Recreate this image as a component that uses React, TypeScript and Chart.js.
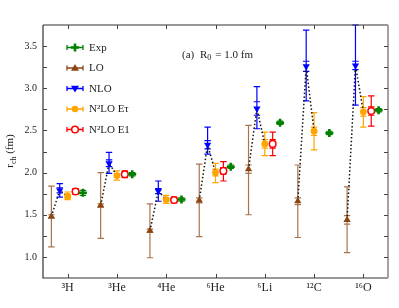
import React, { useEffect, useRef } from 'react';
import { Chart, registerables } from 'chart.js';

Chart.register(...registerables);

// ---------- data ----------
const nuclei = ['³H', '³He', '⁴He', '⁶He', '⁶Li', '¹²C', '¹⁶O'];
const yLabelValues = [1.0, 1.5, 2.0, 2.5, 3.0, 3.5];

const loVal = [1.48, 1.61, 1.31, 1.67, 2.04, 1.66, 1.44];
const loHi = [1.84, 2.0, 1.63, 2.1, 2.56, 2.09, 1.83];
const loLo = [1.12, 1.22, 0.99, 1.24, 1.5, 1.23, 1.05];
const loInner = [0.02, 0.02, 0.02, 0.03, 0.05, 0.04, 0.05];

const nloVal = [1.79, 2.11, 1.78, 2.33, 2.76, 3.26, 3.27];
const nloHi = [1.87, 2.24, 1.9, 2.54, 3.02, 3.69, 3.75];
const nloLo = [1.71, 1.99, 1.66, 2.22, 2.52, 2.85, 2.8];
const nloInner = [0.03, 0.04, 0.03, 0.05, 0.08, 0.06, 0.05];

const erVal = [1.72, 1.965, 1.68, 2.0, 2.34, 2.49, 2.72];
const erHi = [1.77, 2.02, 1.73, 2.11, 2.48, 2.71, 2.9];
const erLo = [1.68, 1.91, 1.635, 1.88, 2.2, 2.27, 2.54];
const erInner = [0.02, 0.02, 0.02, 0.04, 0.05, 0.05, 0.05];

const e1Val = [1.775, 1.98, 1.675, 2.02, 2.34, null, 2.73];
const e1Hi = [1.81, 2.02, 1.71, 2.13, 2.48, null, 2.91];
const e1Lo = [1.74, 1.94, 1.64, 1.9, 2.2, null, 2.55];
const e1Inner = [0.02, 0.02, 0.02, 0.04, 0.05, null, 0.05];

const expVal = [1.76, 1.98, 1.68, 2.07, 2.59, 2.47, 2.74];
const expErr = [0.03, 0.02, 0.02, 0.02, 0.02, 0.02, 0.02];

// ---------- styles ----------
const FONT = "'Liberation Serif', 'DejaVu Serif', serif";
const C_LO = '#8B4513';
const C_LO_BAR = 'rgba(139,69,19,0.75)';
const C_NLO = '#0000FF';
const C_ER = '#FFA500';
const C_E1 = '#FF0000';
const C_EXP = '#008000';

const OFF = { lo: -0.33, nlo: -0.16, er: 0, e1: 0.16, exp: 0.31 };

type Series = {
  vals: (number | null)[];
  hi: (number | null)[];
  lo: (number | null)[];
  inner?: (number | null)[];
  offset: number;
  color: string;
};

const errSeries: Series[] = [
  { vals: loVal, hi: loHi, lo: loLo, inner: loInner, offset: OFF.lo, color: C_LO_BAR },
  { vals: nloVal, hi: nloHi, lo: nloLo, inner: nloInner, offset: OFF.nlo, color: C_NLO },
  { vals: erVal, hi: erHi, lo: erLo, inner: erInner, offset: OFF.er, color: C_ER },
  { vals: e1Val, hi: e1Hi, lo: e1Lo, inner: e1Inner, offset: OFF.e1, color: C_E1 },
  {
    vals: expVal,
    hi: expVal.map((v, i) => v + expErr[i]),
    lo: expVal.map((v, i) => v - expErr[i]),
    offset: OFF.exp,
    color: C_EXP,
  },
];

const pts = (vals: (number | null)[], off: number) =>
  vals.map((v, i) => ({ x: i + 1 + off, y: v }));

const dottedData: { x: number; y: number | null }[] = [];
nuclei.forEach((_, i) => {
  dottedData.push({ x: i + 1 + OFF.lo, y: loVal[i] });
  dottedData.push({ x: i + 1 + OFF.nlo, y: nloVal[i] });
  dottedData.push({ x: i + 1 + OFF.er, y: erVal[i] });
  dottedData.push({ x: i + 1.5, y: null });
});

function drawMarker(ctx: CanvasRenderingContext2D, kind: string, x: number, y: number, color: string) {
  ctx.save();
  ctx.fillStyle = color;
  ctx.strokeStyle = color;
  if (kind === 'triUp' || kind === 'triDown') {
    const r = 4;
    const s = kind === 'triUp' ? 1 : -1;
    ctx.beginPath();
    ctx.moveTo(x, y - s * r);
    ctx.lineTo(x - r, y + s * r * 0.7);
    ctx.lineTo(x + r, y + s * r * 0.7);
    ctx.closePath();
    ctx.fill();
  } else if (kind === 'circle') {
    ctx.beginPath();
    ctx.arc(x, y, 3.3, 0, Math.PI * 2);
    ctx.fill();
  } else if (kind === 'ring') {
    ctx.fillStyle = '#fff';
    ctx.lineWidth = 1.5;
    ctx.beginPath();
    ctx.arc(x, y, 3.3, 0, Math.PI * 2);
    ctx.fill();
    ctx.stroke();
  } else if (kind === 'plus') {
    ctx.lineWidth = 2.6;
    ctx.beginPath();
    ctx.moveTo(x - 4, y);
    ctx.lineTo(x + 4, y);
    ctx.moveTo(x, y - 4);
    ctx.lineTo(x, y + 4);
    ctx.stroke();
  }
  ctx.restore();
}

const errPlugin = {
  id: 'errbars',
  beforeDatasetsDraw(chart: any) {
    const { ctx, chartArea, scales } = chart;
    const xs = scales.x;
    const ys = scales.y;
    ctx.save();
    ctx.beginPath();
    ctx.rect(chartArea.left, chartArea.top - 1, chartArea.right - chartArea.left, chartArea.bottom - chartArea.top + 2);
    ctx.clip();
    ctx.lineWidth = 1.2;
    const cap = 3.2;
    for (const s of errSeries) {
      ctx.strokeStyle = s.color;
      s.vals.forEach((v, i) => {
        if (v == null) return;
        const px = xs.getPixelForValue(i + 1 + s.offset);
        const pt = ys.getPixelForValue(s.hi[i] as number);
        const pb = ys.getPixelForValue(s.lo[i] as number);
        ctx.beginPath();
        ctx.moveTo(px, pt);
        ctx.lineTo(px, pb);
        ctx.moveTo(px - cap, pt);
        ctx.lineTo(px + cap, pt);
        ctx.moveTo(px - cap, pb);
        ctx.lineTo(px + cap, pb);
        if (s.inner && s.inner[i] != null) {
          const a = ys.getPixelForValue(v + (s.inner[i] as number));
          const b = ys.getPixelForValue(v - (s.inner[i] as number));
          ctx.moveTo(px - cap, a);
          ctx.lineTo(px + cap, a);
          ctx.moveTo(px - cap, b);
          ctx.lineTo(px + cap, b);
        }
        ctx.stroke();
      });
    }
    ctx.restore();
  },
};

const legendItems = [
  { label: 'Exp', kind: 'plus', color: C_EXP, sup: false },
  { label: 'LO', kind: 'triUp', color: C_LO, sup: false },
  { label: 'NLO', kind: 'triDown', color: C_NLO, sup: false },
  { label: 'N²LO Eτ', kind: 'circle', color: C_ER, sup: true },
  { label: 'N²LO E1', kind: 'ring', color: C_E1, sup: true },
];

const framePlugin = {
  id: 'frame',
  afterDraw(chart: any) {
    const { ctx, chartArea, scales } = chart;
    const { left, right, top, bottom } = chartArea;
    const xs = scales.x;
    const ys = scales.y;
    ctx.save();
    // frame
    ctx.strokeStyle = '#333';
    ctx.lineWidth = 1.2;
    ctx.beginPath();
    ctx.moveTo(left, top);
    ctx.lineTo(left, bottom);
    ctx.lineTo(right, bottom);
    ctx.moveTo(left, top);
    ctx.lineTo(right, top);
    ctx.stroke();
    ctx.strokeStyle = '#999';
    ctx.lineWidth = 1.8;
    ctx.beginPath();
    ctx.moveTo(right, top);
    ctx.lineTo(right, bottom);
    ctx.stroke();
    // ticks (inward)
    ctx.strokeStyle = '#444';
    ctx.lineWidth = 1;
    ctx.beginPath();
    ys.ticks.forEach((t: any) => {
      const py = Math.round(ys.getPixelForValue(t.value)) + 0.5;
      if (py <= top + 1 || py >= bottom - 1) return;
      ctx.moveTo(left, py);
      ctx.lineTo(left + 4, py);
      ctx.moveTo(right, py);
      ctx.lineTo(right - 4, py);
    });
    xs.ticks.forEach((t: any) => {
      const px = Math.round(xs.getPixelForValue(t.value)) + 0.5;
      if (px <= left + 1 || px >= right - 1) return;
      ctx.moveTo(px, bottom);
      ctx.lineTo(px, bottom - 4);
      ctx.moveTo(px, top);
      ctx.lineTo(px, top + 4);
    });
    ctx.stroke();

    // legend
    ctx.textBaseline = 'middle';
    ctx.textAlign = 'left';
    const lx0 = 67;
    const lx1 = 83;
    legendItems.forEach((it, k) => {
      const ly = 47.5 + k * 20.5;
      ctx.strokeStyle = it.color;
      ctx.lineWidth = 1.3;
      ctx.beginPath();
      ctx.moveTo(lx0, ly);
      ctx.lineTo(lx1, ly);
      ctx.moveTo(lx0, ly - 2.5);
      ctx.lineTo(lx0, ly + 2.5);
      ctx.moveTo(lx1, ly - 2.5);
      ctx.lineTo(lx1, ly + 2.5);
      ctx.stroke();
      drawMarker(ctx, it.kind, (lx0 + lx1) / 2, ly, it.color);
      ctx.fillStyle = '#222';
      ctx.font = `11px ${FONT}`;
      ctx.fillText(it.label, 89, ly + 0.5);
    });

    // annotation
    ctx.fillStyle = '#222';
    ctx.font = `11px ${FONT}`;
    ctx.fillText('(a)', 182, 55);
    ctx.fillText('R', 200, 55);
    const rw = ctx.measureText('R').width;
    ctx.font = `8px ${FONT}`;
    ctx.fillText('0', 200 + rw, 58);
    ctx.font = `11px ${FONT}`;
    ctx.fillText('= 1.0 fm', 200 + rw + 8, 55);

    // y title r_ch (fm)
    ctx.save();
    ctx.translate(13, 151);
    ctx.rotate(-Math.PI / 2);
    ctx.textBaseline = 'alphabetic';
    ctx.font = `11px ${FONT}`;
    const w1 = ctx.measureText('r').width;
    ctx.font = `8px ${FONT}`;
    const w2 = ctx.measureText('ch').width;
    ctx.font = `11px ${FONT}`;
    const w3 = ctx.measureText(' (fm)').width;
    let sx = -(w1 + w2 + w3) / 2;
    ctx.fillText('r', sx, 0);
    sx += w1;
    ctx.font = `8px ${FONT}`;
    ctx.fillText('ch', sx, 2.5);
    sx += w2;
    ctx.font = `11px ${FONT}`;
    ctx.fillText(' (fm)', sx, 0);
    ctx.restore();

    ctx.restore();
  },
};

export default function App() {
  const ref = useRef<HTMLCanvasElement | null>(null);
  useEffect(() => {
    document.body.style.margin = '0';
    const canvas = ref.current;
    if (!canvas) return;
    const chart = new Chart(canvas, {
      type: 'scatter',
      data: {
        datasets: [
          {
            label: 'Exp',
            data: pts(expVal, OFF.exp),
            pointStyle: 'cross',
            pointRadius: 4,
            pointBorderWidth: 2.6,
            borderColor: C_EXP,
            backgroundColor: C_EXP,
          },
          {
            label: 'N²LO E1',
            data: pts(e1Val, OFF.e1),
            pointStyle: 'circle',
            pointRadius: 3.3,
            pointBorderWidth: 1.5,
            borderColor: C_E1,
            backgroundColor: '#ffffff',
          },
          {
            label: 'N²LO Eτ',
            data: pts(erVal, OFF.er),
            pointStyle: 'circle',
            pointRadius: 3.4,
            pointBorderWidth: 0,
            borderColor: C_ER,
            backgroundColor: C_ER,
          },
          {
            label: 'NLO',
            data: pts(nloVal, OFF.nlo),
            pointStyle: 'triangle',
            rotation: 180,
            pointRadius: 4.2,
            pointBorderWidth: 0,
            borderColor: C_NLO,
            backgroundColor: C_NLO,
          },
          {
            label: 'LO',
            data: pts(loVal, OFF.lo),
            pointStyle: 'triangle',
            pointRadius: 4.2,
            pointBorderWidth: 0,
            borderColor: C_LO,
            backgroundColor: C_LO,
          },
          {
            label: 'path',
            data: dottedData,
            showLine: true,
            spanGaps: false,
            pointRadius: 0,
            borderColor: '#111',
            borderWidth: 1.5,
            borderDash: [1.5, 2.2],
          } as any,
        ],
      },
      options: {
        animation: false,
        responsive: false,
        devicePixelRatio: 1,
        events: [],
        layout: { padding: { left: 0, top: 25, right: 11, bottom: 0 } },
        plugins: { legend: { display: false }, tooltip: { enabled: false } },
        scales: {
          x: {
            type: 'linear',
            min: 0.5,
            max: 7.5,
            afterFit: (s: any) => {
              s.height = 30;
            },
            afterBuildTicks: (s: any) => {
              s.ticks = nuclei.map((_, i) => ({ value: i + 1 }));
            },
            grid: { display: false, drawTicks: false },
            border: { display: false },
            ticks: {
              autoSkip: false,
              maxRotation: 0,
              padding: 3,
              color: '#222',
              font: { family: FONT, size: 12 },
              callback: (v: any) => {
                const i = Math.round(Number(v)) - 1;
                return nuclei[i] ?? '';
              },
            },
          },
          y: {
            type: 'linear',
            min: 0.75,
            max: 3.75,
            afterFit: (s: any) => {
              s.width = 43;
            },
            grid: { display: false, drawTicks: false },
            border: { display: false },
            ticks: {
              stepSize: 0.25,
              autoSkip: false,
              padding: 6,
              color: '#222',
              font: { family: FONT, size: 10 },
              callback: (v: any) => {
                const n = Number(v);
                return yLabelValues.some((t) => Math.abs(t - n) < 1e-6) ? n.toFixed(1) : '';
              },
            },
          },
        },
      } as any,
      plugins: [errPlugin, framePlugin],
    });
    return () => chart.destroy();
  }, []);
  return (
    <div style={{ width: 399, height: 308 }}>
      <canvas ref={ref} width={399} height={308} style={{ width: 399, height: 308, display: 'block' }} />
    </div>
  );
}
